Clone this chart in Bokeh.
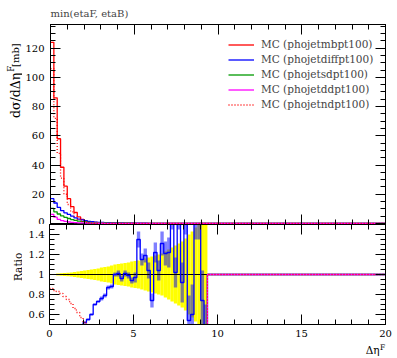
from math import pi
from bokeh.plotting import figure
from bokeh.layouts import column, row
from bokeh.models import (FixedTicker, LinearAxis, Label, Legend, LegendItem,
                          Range1d, CustomJSTickFormatter)
from bokeh.embed import file_html
from bokeh.resources import INLINE

FONT = "DejaVu Serif"

# ---------------- data ----------------
bin_lo = [0.0, 0.2, 0.4, 0.6, 0.8, 1.0, 1.2, 1.4, 1.6, 1.8,
          2.0, 2.2, 2.4, 2.6, 2.8, 3.0, 3.2, 3.4, 3.6, 3.8,
          4.0, 4.2, 4.4, 4.6, 4.8, 5.0, 5.2, 5.4, 5.6, 5.8,
          6.0, 6.2, 6.4, 6.6, 6.8, 7.0, 7.2, 7.4, 7.6, 7.8,
          8.0, 8.2, 8.4, 8.6, 8.8, 9.0, 9.2]
bin_width = 0.2
tail_edges = [9.4, 20.0]

labels = ["MC (phojetmbpt100)", "MC (phojetdiffpt100)", "MC (phojetsdpt100)",
          "MC (phojetddpt100)", "MC (phojetndpt100)"]

mb = [124, 86, 58, 38.5, 25.5, 17, 11.5, 7.5, 4.5, 2.8,
      1.8, 1.3, 1.0, 0.75, 0.6, 0.5, 0.42, 0.36, 0.31, 0.27,
      0.24, 0.21, 0.19, 0.17, 0.15, 0.13, 0.12, 0.10, 0.09, 0.08,
      0.07, 0.06, 0.055, 0.05, 0.045, 0.04, 0.035, 0.03, 0.027, 0.024,
      0.02, 0.017, 0.014, 0.011, 0.008, 0.005, 0.003]
diff = [17, 14, 11, 8.8, 7.3, 6.2, 5.0, 3.9, 3.0, 2.4,
        1.9, 1.5, 1.2, 0.95, 0.8, 0.7, 0.6, 0.52, 0.46, 0.42,
        0.38, 0.34, 0.3, 0.27, 0.24, 0.21, 0.19, 0.17, 0.15, 0.13,
        0.11, 0.1, 0.09, 0.08, 0.07, 0.06, 0.05, 0.045, 0.04, 0.035,
        0.03, 0.025, 0.02, 0.015, 0.01, 0.006, 0.003]
sd = [10.3, 8.0, 6.5, 5.2, 4.2, 3.4, 2.7, 2.1, 1.6, 1.3,
      1.0, 0.8, 0.65, 0.52, 0.44, 0.38, 0.32, 0.28, 0.25, 0.22,
      0.2, 0.18, 0.16, 0.14, 0.12, 0.11, 0.1, 0.09, 0.08, 0.07,
      0.06, 0.05, 0.045, 0.04, 0.035, 0.03, 0.025, 0.022, 0.02, 0.017,
      0.015, 0.012, 0.01, 0.007, 0.005, 0.003, 0.002]
dd = [6.2, 4.3, 2.8, 2.0, 1.4, 1.0, 0.8, 0.6, 0.48, 0.4,
      0.33, 0.28, 0.24, 0.2, 0.17, 0.15, 0.13, 0.11, 0.1, 0.09,
      0.08, 0.07, 0.065, 0.06, 0.055, 0.05, 0.045, 0.04, 0.035, 0.03,
      0.027, 0.024, 0.021, 0.018, 0.016, 0.014, 0.012, 0.01, 0.009, 0.008,
      0.007, 0.006, 0.005, 0.004, 0.003, 0.002, 0.001]
nd = [106, 72, 48, 31, 20, 13, 8.0, 4.8, 2.8, 1.6,
      0.9, 0.5, 0.3, 0.15, 0.08, 0.04, 0.02, 0.01, 0, 0,
      0, 0, 0, 0, 0, 0, 0, 0, 0, 0,
      0, 0, 0, 0, 0, 0, 0, 0, 0, 0,
      0, 0, 0, 0, 0, 0, 0]
main_tail = 0.0

# ratio to MC (phojetmbpt100)
ratio_diff = [0.14, 0.16, 0.17, 0.19, 0.22, 0.25, 0.29, 0.34, 0.38, 0.43,
              0.52, 0.55, 0.6, 0.7, 0.73, 0.76, 0.79, 0.87, 0.88, 1.0,
              1.01, 0.96, 1.01, 0.99, 0.94, 0.97, 1.35, 1.15, 1.19, 1.04,
              0.74, 1.22, 1.04, 1.31, 1.21, 1.22, 1.7, 1.02, 1.7, 0.92,
              1.7, 0.54, 0.6, 1.7, 1.7, 0.74, 0.3]
err_diff = [0.005, 0.005, 0.005, 0.005, 0.005, 0.005, 0.005, 0.005, 0.005, 0.005,
            0.01, 0.01, 0.01, 0.01, 0.01, 0.02, 0.02, 0.02, 0.02, 0.02,
            0.03, 0.03, 0.03, 0.03, 0.03, 0.05, 0.08, 0.06, 0.07, 0.08,
            0.07, 0.1, 0.1, 0.12, 0.12, 0.15, 0.25, 0.15, 0.25, 0.2,
            0.3, 0.25, 0.3, 0.35, 0.35, 0.3, 0.4]
ratio_sd = [0.08, 0.09, 0.11, 0.13, 0.16, 0.2, 0.23, 0.28, 0.33, 0.38,
            0.42, 0.45, 0.47, 0.48, 0.48, 0.47, 0.46, 0.46, 0.45, 0.45,
            0.45, 0.44, 0.44, 0.44, 0.43, 0.43, 0.43, 0.42, 0.42, 0.42,
            0.41, 0.41, 0.4, 0.4, 0.4, 0.39, 0.39, 0.38, 0.38, 0.37,
            0.37, 0.36, 0.35, 0.34, 0.33, 0.32, 0.3]
ratio_dd = [0.05, 0.05, 0.05, 0.05, 0.06, 0.06, 0.07, 0.08, 0.1, 0.13,
            0.16, 0.2, 0.24, 0.27, 0.3, 0.32, 0.34, 0.36, 0.38, 0.4,
            0.41, 0.42, 0.42, 0.42, 0.42, 0.42, 0.42, 0.42, 0.42, 0.42,
            0.42, 0.42, 0.42, 0.42, 0.42, 0.41, 0.41, 0.41, 0.41, 0.4,
            0.4, 0.4, 0.39, 0.39, 0.38, 0.38, 0.3]
ratio_nd = [0.86, 0.84, 0.83, 0.81, 0.78, 0.75, 0.71, 0.66, 0.62, 0.57,
            0.52, 0.46, 0.4, 0.34, 0.28, 0.22, 0.17, 0.12, 0.08, 0.05,
            0.03, 0.02, 0.01, 0, 0, 0, 0, 0, 0, 0,
            0, 0, 0, 0, 0, 0, 0, 0, 0, 0,
            0, 0, 0, 0, 0, 0, 0]
ref_err = [0.0, 0.005, 0.01, 0.012, 0.015, 0.018, 0.021, 0.025, 0.03, 0.035,
           0.04, 0.045, 0.05, 0.055, 0.06, 0.07, 0.075, 0.08, 0.09, 0.1,
           0.105, 0.11, 0.115, 0.12, 0.13, 0.135, 0.14, 0.15, 0.16, 0.17,
           0.18, 0.19, 0.2, 0.21, 0.23, 0.25, 0.27, 0.29, 0.31, 0.33,
           0.36, 0.4, 0.43, 0.47, 0.5, 0.55, 0.6]
ratio_tail = 1.0
ratio_mb = [m / m for m in mb]   # the reference divided by itself

colors = ["#ff0000", "#0000ff", "#009a00", "#ff00ff", "#ff0000"]
dashes = ["solid", "solid", "solid", "solid", "1 2"]

main_x = [0, 5, 10, 15, 20]
main_x_minor = list(range(0, 21))
main_y = [0, 20, 40, 60, 80, 100, 120]
main_y_minor = list(range(0, 140, 5))
ratio_y = [0.6, 0.8, 1.0, 1.2, 1.4]
ratio_y_minor = [0.5 + 0.05 * i for i in range(21)]

title_text = "min(etaF, etaB)"
ylabel_main = "dσ/dΔη"
ylabel_sup = "F"
ylabel_unit = "[mb]"
ratio_label = "Ratio"
xlabel_main = "Δη"
xlabel_sup = "F"


def step_xy(vals, tail_val):
    return bin_lo + tail_edges, list(vals) + [tail_val, tail_val]


def style_axis(ax, ticks, minor, show_labels, standoff=6):
    ax.ticker = FixedTicker(ticks=ticks, minor_ticks=minor)
    ax.major_tick_in = 10
    ax.major_tick_out = 0
    ax.minor_tick_in = 5
    ax.minor_tick_out = 0
    ax.axis_line_color = "black"
    ax.major_tick_line_color = "black"
    ax.minor_tick_line_color = "black"
    if show_labels:
        ax.major_label_text_font = FONT
        ax.major_label_text_font_size = "10px"
        ax.major_label_text_color = "black"
        ax.major_label_standoff = standoff
    else:
        ax.major_label_overrides = {t: "" for t in ticks}
        ax.major_label_text_font_size = "1px"
        ax.major_label_text_color = None
        ax.major_label_standoff = 0


def make_fig(yr, h, top, bottom):
    f = figure(x_range=xr, y_range=yr, width=375, height=h,
               output_backend="svg", toolbar_location=None,
               x_axis_location=None, y_axis_location=None,
               min_border_left=27, min_border_right=12,
               min_border_top=top, min_border_bottom=bottom)
    for g in f.grid:
        g.visible = False
    f.outline_line_color = "black"
    f.outline_line_width = 1
    f.background_fill_color = "white"
    f.border_fill_color = "white"
    return f


def make_strip(w, h):
    f = figure(x_range=Range1d(0, w), y_range=Range1d(0, h), width=w, height=h,
               output_backend="svg", toolbar_location=None,
               x_axis_location=None, y_axis_location=None,
               min_border_left=0, min_border_right=0, min_border_top=0, min_border_bottom=0)
    for g in f.grid:
        g.visible = False
    f.outline_line_color = None
    f.background_fill_color = "white"
    f.border_fill_color = "white"
    return f


def add_text(f, x, y, text, size, align="left", angle=0.0):
    f.add_layout(Label(x=x, y=y, text=text, text_font=FONT, text_font_size=size,
                       text_align=align, text_baseline="alphabetic", angle=angle,
                       text_color="black"))


xr = Range1d(0, 20)

# ---------------- main panel ----------------
p1 = make_fig(Range1d(-0.7, 136.2), 224, 24, 0)
p1.title.text = title_text
p1.title.align = "left"
p1.title.text_font = FONT
p1.title.text_font_size = "10px"
p1.title.text_font_style = "normal"
p1.title.standoff = 11

series = [mb, diff, sd, dd, nd]
rends = []
for vals, c, d in zip(series, colors, dashes):
    xs, ys = step_xy(vals, main_tail)
    r = p1.step(xs, ys, mode="after", line_color=c, line_width=1.3, line_dash=d)
    rends.append(r)

ax = LinearAxis(); style_axis(ax, main_y, main_y_minor, True, 6); p1.add_layout(ax, "left")
ax = LinearAxis(); style_axis(ax, main_y, main_y_minor, False); p1.add_layout(ax, "right")
ax = LinearAxis(); style_axis(ax, main_x, main_x_minor, False); p1.add_layout(ax, "above")
ax = LinearAxis(); style_axis(ax, main_x, main_x_minor, False); p1.add_layout(ax, "below")

legend = Legend(items=[LegendItem(label=l, renderers=[r]) for l, r in zip(labels, rends)],
                location=(178, 112.5), padding=0, margin=0, spacing=0,
                glyph_width=26, glyph_height=15, label_height=15, label_standoff=7,
                label_text_font=FONT, label_text_font_size="10.5px",
                border_line_color=None, background_fill_alpha=0)
p1.add_layout(legend)

# ---------------- ratio panel ----------------
p2 = make_fig(Range1d(0.5, 1.5), 118, 0, 18)
lefts = bin_lo
rights = [b + bin_width for b in bin_lo]
p2.quad(left=lefts, right=rights,
        bottom=[1 - e for e in ref_err], top=[1 + e for e in ref_err],
        fill_color="#ffff00", line_color=None)
p2.quad(left=lefts, right=rights,
        bottom=[r - e for r, e in zip(ratio_diff, err_diff)],
        top=[r + e for r, e in zip(ratio_diff, err_diff)],
        fill_color="#0000ff", fill_alpha=0.5, line_color=None)
xs, ys = step_xy(ratio_mb, ratio_tail)
p2.step(xs, ys, mode="after", line_color="black", line_width=1.1)
ratios = [ratio_diff, ratio_sd, ratio_dd, ratio_nd]
for vals, c, d in zip(ratios, colors[1:], dashes[1:]):
    xs, ys = step_xy(vals, ratio_tail)
    p2.step(xs, ys, mode="after", line_color=c, line_width=1.3, line_dash=d)

ax = LinearAxis(); style_axis(ax, ratio_y, ratio_y_minor, True, 5); p2.add_layout(ax, "left")
ax.formatter = CustomJSTickFormatter(code="return (Math.round(tick*10)/10).toString();")
ax = LinearAxis(); style_axis(ax, ratio_y, ratio_y_minor, False); p2.add_layout(ax, "right")
ax = LinearAxis(); style_axis(ax, main_x, main_x_minor, False); p2.add_layout(ax, "above")
ax = LinearAxis(); style_axis(ax, main_x, main_x_minor, True, 5); p2.add_layout(ax, "below")

# ---------------- text strips (coordinates = pixels) ----------------
bottom = make_strip(397, 16)        # page y = 358 - y
add_text(bottom, 379, 9, xlabel_main, "10.5px", "right")
add_text(bottom, 379.5, 11.5, xlabel_sup, "7.5px", "left")

yl1 = make_strip(22, 224)           # page y = 224 - y
add_text(yl1, 15, 170, ylabel_main, "12.5px", "right", pi / 2)
add_text(yl1, 10.5, 171, ylabel_sup, "8.5px", "left", pi / 2)
add_text(yl1, 15, 203, ylabel_unit, "10px", "right", pi / 2)

yl2 = make_strip(22, 118)           # page y = 342 - y
add_text(yl2, 17, 68, ratio_label, "10.5px", "center", pi / 2)

layout = column(row(yl1, p1, spacing=0), row(yl2, p2, spacing=0), bottom, spacing=0)
open("out.html", "w").write(file_html(layout, INLINE))
